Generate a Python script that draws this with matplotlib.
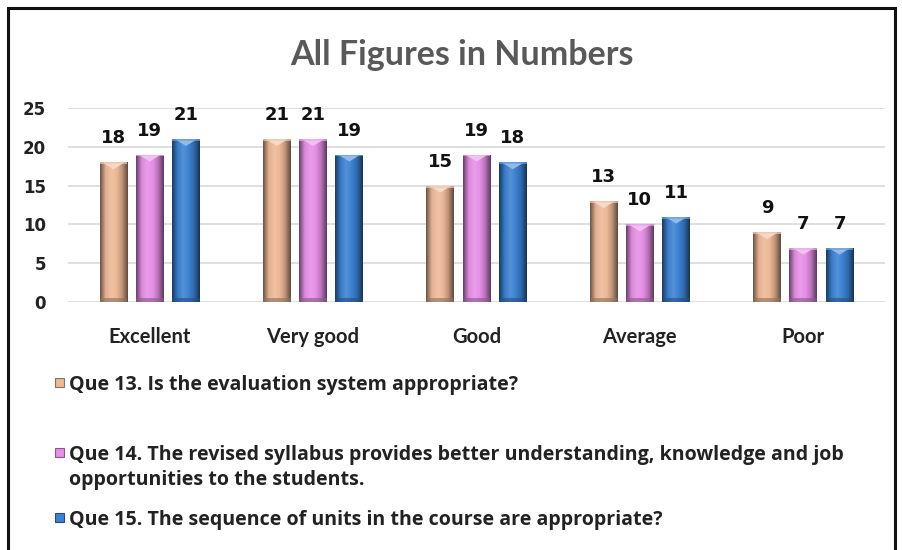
import matplotlib
matplotlib.use("Agg")
import matplotlib.pyplot as plt
import numpy as np
from matplotlib.colors import LinearSegmentedColormap, to_rgb
from matplotlib.patches import Rectangle

categories = ["Excellent", "Very good", "Good", "Average", "Poor"]
que13 = [18, 21, 15, 13, 9]
que14 = [19, 21, 19, 10, 7]
que15 = [21, 19, 18, 11, 7]
series_labels = [
    "Que 13. Is the evaluation system appropriate?",
    "Que 14. The revised syllabus provides better understanding, knowledge and job\nopportunities to the students.",
    "Que 15. The sequence of units in the course are appropriate?",
]
yticks = [0, 5, 10, 15, 20, 25]
title = "All Figures in Numbers"

colors = ["#EDB997", "#E68FE6", "#3C82D2"]

fig = plt.figure(figsize=(9.03, 5.5), dpi=100)
fig.patch.set_facecolor("white")
fig.patches.append(Rectangle((8/903, -0.05), (895-8)/903, 1-8/550+0.05,
                             transform=fig.transFigure, fill=False,
                             edgecolor="#111111", linewidth=2.2))

ax = fig.add_axes([68/903, 1-302/550, (885-68)/903, (302-108)/550])
ax.set_xlim(-0.5, 4.5)
ax.set_ylim(0, 25)

def shade(c, f):
    r = np.array(to_rgb(c))
    if f < 0:
        return tuple(r * (1 + f))
    return tuple(r + (1 - r) * f)

x = np.arange(len(categories))
width = 0.17
offs = [-0.222, 0, 0.222]
for s, (vals, col) in enumerate(zip([que13, que14, que15], colors)):
    bars = ax.bar(x + offs[s], vals, width=width, color=col, zorder=3,
                  edgecolor="none")
    cmap = LinearSegmentedColormap.from_list(
        "g", [shade(col, -0.55), shade(col, -0.05), shade(col, 0.12),
              col, shade(col, -0.2), shade(col, -0.6)])
    grad = np.linspace(0, 1, 64).reshape(1, -1)
    for b, v in zip(bars, vals):
        x0 = b.get_x()
        im = ax.imshow(grad, cmap=cmap, aspect="auto",
                       extent=(x0, x0 + width, 0, v), zorder=4,
                       origin="lower")
        im.set_clip_path(b)
        tri_h = 0.9
        ax.fill([x0 + width*0.12, x0 + width*0.88, x0 + width*0.5],
                [v - 0.05, v - 0.05, v - tri_h], color=shade(col, 0.45),
                zorder=5, lw=0)
        ax.fill([x0, x0 + width, x0 + width, x0],
                [v, v, v - 0.25, v - 0.25], color=shade(col, 0.25),
                zorder=5, lw=0, alpha=0.7)
        ax.fill([x0, x0 + width, x0 + width, x0],
                [0, 0, 0.5, 0.5], color=shade(col, -0.4),
                zorder=5, lw=0, alpha=0.6)
        ax.annotate(str(v), (x0 + width/2, v), xytext=(0, 24),
                    textcoords="offset pixels",
                    ha="center", va="center", fontsize=13, fontweight="bold",
                    family="DejaVu Sans", color="#111111", zorder=6)

ax.set_yticks(yticks)
ax.set_yticklabels([str(t) for t in yticks], fontsize=12, fontweight="bold",
                   family="DejaVu Sans", color="#222222")
ax.set_xticks(x)
ax.set_xticklabels(categories, fontsize=14.5, fontweight="bold",
                   family="Lato", color="#222222")
ax.tick_params(axis="y", length=0, pad=16)
ax.tick_params(axis="x", length=0, pad=18)
ax.grid(axis="y", color="#D9D9D9", linewidth=1.2, zorder=0)
for sp in ax.spines.values():
    sp.set_visible(False)
ax.set_facecolor("white")

fig.text(462/903, 1-55/550, title, ha="center", va="center", fontsize=24.5,
         fontweight="bold", family="Lato", color="#595959")

leg_y = [383, 453, 518]
for lab, col, yy in zip(series_labels, colors, leg_y):
    fig.patches.append(Rectangle((55/903, 1-(yy+4)/550), 9/903, 9/550,
                                 transform=fig.transFigure, facecolor=col,
                                 edgecolor=shade(col, -0.4), lw=0.8))
    fig.text(69/903, 1-(yy-8)/550, lab, ha="left", va="top", fontsize=14.1,
             fontweight="bold", family="Open Sans",
             color="#222222", linespacing=1.36)

fig.savefig("out.png", dpi=100)
